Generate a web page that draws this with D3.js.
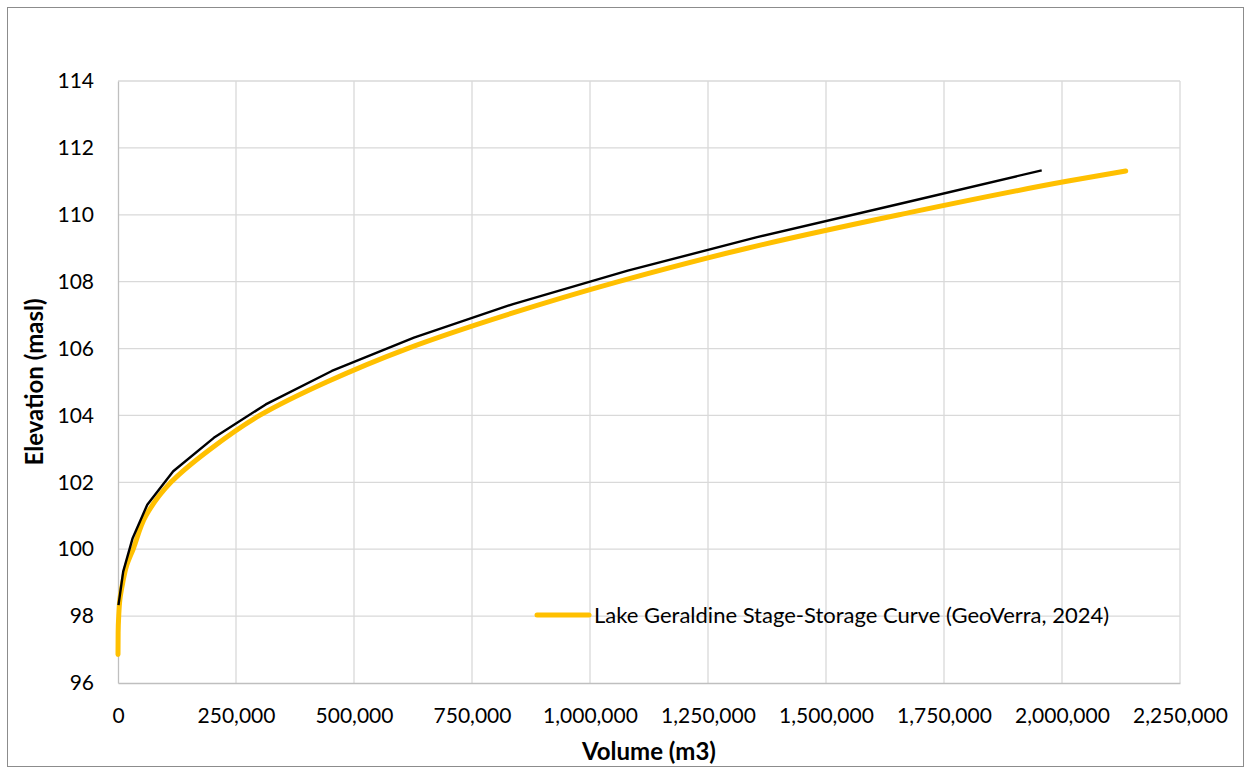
<!DOCTYPE html>
<html>
<head>
<meta charset="utf-8">
<script src="https://cdn.jsdelivr.net/npm/d3@7"></script>
<style>
html,body{margin:0;padding:0;background:#fff;}
svg{display:block;}
text{font-family:Lato,"Open Sans",sans-serif;}
</style>
</head>
<body>
<svg id="chart" width="1251" height="774"></svg>
<script>
// ---- data ----
const xTicks = [0, 250000, 500000, 750000, 1000000, 1250000, 1500000, 1750000, 2000000, 2250000];
const yTicks = [96, 98, 100, 102, 104, 106, 108, 110, 112, 114];

// Black (previous) stage-storage curve
const blackVolume    = [1000, 11000, 31000, 62000, 117000, 203000, 313000, 453000, 627000, 837000, 1080000, 1354000, 1657000, 1957000];
const blackElevation = [98.33, 99.33, 100.33, 101.33, 102.33, 103.33, 104.33, 105.33, 106.33, 107.33, 108.33, 109.33, 110.33, 111.33];

// Lake Geraldine Stage-Storage Curve (GeoVerra, 2024)
const geoVolume    = [0, 300, 1500, 4000, 10000, 18000, 32000, 59000, 112000, 196000, 300000, 442000, 613000, 822000, 1060000, 1333000, 1655000, 2010000, 2135000];
const geoElevation = [96.85, 97.5, 98, 98.5, 99, 99.5, 100, 101, 102, 103, 104, 105, 106, 107, 108, 109, 110, 111, 111.31];

const legendLabel = "Lake Geraldine Stage-Storage Curve (GeoVerra, 2024)";
const xTitle = "Volume (m3)";
const yTitle = "Elevation (masl)";

// ---- layout ----
const svg = d3.select("#chart");
const plot = {left: 118, right: 1180, top: 81, bottom: 683};

svg.append("rect").attr("x", 7.5).attr("y", 7.5).attr("width", 1236).attr("height", 759)
  .attr("fill", "#fff").attr("stroke", "#8c8c8c").attr("stroke-width", 1);

const x = d3.scaleLinear().domain([0, 2250000]).range([plot.left, plot.right]);
const y = d3.scaleLinear().domain([96, 114]).range([plot.bottom, plot.top]);

// gridlines
const grid = svg.append("g");
grid.selectAll(".vg").data(xTicks.filter(d => d > 0)).enter().append("line")
  .attr("x1", d => x(d)).attr("x2", d => x(d)).attr("y1", plot.top).attr("y2", plot.bottom)
  .attr("stroke", "#d9d9d9").attr("stroke-width", 1.3);
grid.selectAll(".hg").data(yTicks.filter(d => d > 96)).enter().append("line")
  .attr("x1", plot.left).attr("x2", plot.right).attr("y1", d => y(d)).attr("y2", d => y(d))
  .attr("stroke", "#d9d9d9").attr("stroke-width", 1.3);

// axes
const fmt = d3.format(",");
const xAxis = svg.append("g").attr("transform", `translate(0,${plot.bottom})`)
  .call(d3.axisBottom(x).tickValues(xTicks).tickFormat(fmt).tickSize(0).tickPadding(25));
xAxis.select(".domain").attr("stroke", "#bfbfbf").attr("stroke-width", 1.3);
xAxis.selectAll("text").attr("font-size", 21).attr("fill", "#000").attr("font-family", "Lato, sans-serif");

const yAxis = svg.append("g").attr("transform", `translate(${plot.left},0)`)
  .call(d3.axisLeft(y).tickValues(yTicks).tickFormat(d3.format("d")).tickSize(0).tickPadding(24));
yAxis.select(".domain").attr("stroke", "#bfbfbf").attr("stroke-width", 1.3);
yAxis.selectAll("text").attr("font-size", 21).attr("fill", "#000").attr("font-family", "Lato, sans-serif");

// lines
const blackData = blackVolume.map((v, i) => ({v, e: blackElevation[i]}));
const geoData = geoVolume.map((v, i) => ({v, e: geoElevation[i]}));

const lineLin = d3.line().x(d => x(d.v)).y(d => y(d.e));
const lineSmooth = d3.line().x(d => x(d.v)).y(d => y(d.e)).curve(d3.curveMonotoneY);

svg.append("path").datum(geoData).attr("d", lineSmooth)
  .attr("fill", "none").attr("stroke", "#ffc000").attr("stroke-width", 5)
  .attr("stroke-linecap", "round").attr("stroke-linejoin", "round");
svg.append("path").datum(blackData).attr("d", lineLin)
  .attr("fill", "none").attr("stroke", "#000").attr("stroke-width", 2.4)
  .attr("stroke-linejoin", "round");

// legend
const lg = svg.append("g");
lg.append("line").attr("x1", 537).attr("x2", 589).attr("y1", 615).attr("y2", 615)
  .attr("stroke", "#ffc000").attr("stroke-width", 5).attr("stroke-linecap", "round");
lg.append("text").attr("x", 594).attr("y", 623).attr("font-size", 22).attr("fill", "#000")
  .text(legendLabel);

// axis titles
svg.append("text").attr("x", (plot.left + plot.right) / 2).attr("y", 760)
  .attr("text-anchor", "middle").attr("font-size", 24).attr("font-weight", "bold").attr("fill", "#000")
  .text(xTitle);
svg.append("text").attr("transform", `translate(43,${(plot.top + plot.bottom) / 2}) rotate(-90)`)
  .attr("text-anchor", "middle").attr("font-size", 24).attr("font-weight", "bold").attr("fill", "#000")
  .text(yTitle);
</script>
</body>
</html>
